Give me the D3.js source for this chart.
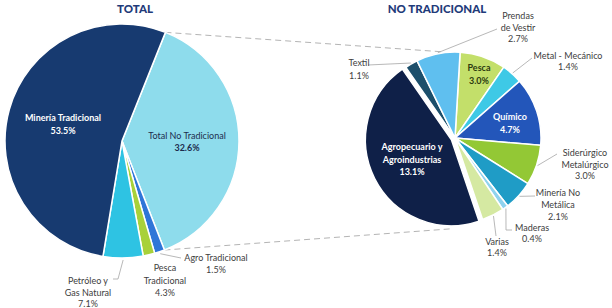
<!DOCTYPE html>
<html>
<head>
<meta charset="utf-8">
<script src="https://cdn.jsdelivr.net/npm/d3@7"></script>
<style>
  body { margin: 0; background: #fff; }
  svg { display: block; font-family: Lato, "Open Sans", sans-serif; }
</style>
</head>
<body>
<div id="graph"></div>
<script>
const width = 612, height = 308;

// left pie, clockwise from the top edge of "Total No Tradicional"
const totalNames = ["Total No Tradicional", "Agro Tradicional", "Pesca|Tradicional", "Petróleo y|Gas Natural", "Minería Tradicional"];
const totalPct = ["32.6%", "1.5%", "4.3%", "7.1%", "53.5%"];
const totalShare = [38.0, 1.4, 1.6, 5.5, 53.4]; // slice sizes as drawn
const totalColors = ["#8edcec", "#2f76d8", "#a8d13a", "#2ec3e3", "#173a70"];

// right pie, clockwise from the top
const noTradNames = ["Pesca", "Metal - Mecánico", "Químico", "Siderúrgico|Metalúrgico", "Minería No|Metálica", "Maderas", "Varias", "Agropecuario y|Agroindustrias", "Textil", "Prendas|de Vestir"];
const noTradPct = ["3.0%", "1.4%", "4.7%", "3.0%", "2.1%", "0.4%", "1.4%", "13.1%", "1.1%", "2.7%"];
const noTradShare = [31, 14, 46, 27, 20, 4, 15, 163, 8.6, 29.4];
const noTradColors = ["#c3df6a", "#3ec9e6", "#2356ba", "#93c835", "#1f9cc6", "#8fd3ee", "#d5e9a2", "#0f2048", "#1c4f6b", "#5fbfef"];

const deg = Math.PI / 180;

const svg = d3.select("#graph")
  .append("svg")
  .attr("width", width)
  .attr("height", height);

function polar(cx, cy, r, a) {
  return [cx + r * Math.sin(a), cy - r * Math.cos(a)];
}

// ---- left pie
const L = {cx: 122, cy: 141, r: 117, start: 21.8 * deg};
const leftArcs = d3.pie().sort(null)
  .startAngle(L.start).endAngle(L.start + 2 * Math.PI)
  (totalShare);
const arcL = d3.arc().innerRadius(0).outerRadius(L.r);

// ---- right pie
const R = {cx: 455, cy: 138, r: 86, start: 3.4 * deg};
const rightArcs = d3.pie().sort(null)
  .startAngle(R.start).endAngle(R.start + 2 * Math.PI)
  (noTradShare);
const arcR = d3.arc().innerRadius(0).outerRadius(R.r);

// connector dashed lines
const noTrad = leftArcs[0];
const conn = [
  [polar(L.cx, L.cy, L.r, noTrad.startAngle), polar(R.cx, R.cy, R.r + 1, -8 * deg)],
  [polar(L.cx, L.cy, L.r, noTrad.endAngle), polar(R.cx, R.cy, R.r + 5, 183 * deg)]
];
svg.selectAll(".conn")
  .data(conn)
  .join("line")
  .attr("class", "conn")
  .attr("x1", d => d[0][0]).attr("y1", d => d[0][1])
  .attr("x2", d => d[1][0]).attr("y2", d => d[1][1])
  .attr("stroke", "#b4b4b4")
  .attr("stroke-width", 1)
  .attr("stroke-dasharray", "6,4");

svg.append("g")
  .attr("transform", `translate(${L.cx},${L.cy})`)
  .selectAll("path")
  .data(leftArcs)
  .join("path")
  .attr("d", arcL)
  .attr("fill", (d, i) => totalColors[i])
  .attr("stroke", "#fff")
  .attr("stroke-width", 1.5);

svg.append("g")
  .attr("transform", `translate(${R.cx},${R.cy})`)
  .selectAll("path")
  .data(rightArcs)
  .join("path")
  .attr("transform", (d, i) => {
    if (i != 7) return null;
    const m = (d.startAngle + d.endAngle) / 2;
    return `translate(${4 * Math.sin(m)},${-4 * Math.cos(m)})`;
  })
  .attr("d", arcR)
  .attr("fill", (d, i) => noTradColors[i])
  .attr("stroke", "#fff")
  .attr("stroke-width", 1.5);

// leader lines: from slice edge to label
const mid = d => (d.startAngle + d.endAngle) / 2;
const leaders = [
  [polar(L.cx, L.cy, L.r + 2, mid(leftArcs[1])), [181, 258]],
  [polar(L.cx, L.cy, L.r + 2, mid(leftArcs[3])), [118, 279], [113, 279]],
  [polar(R.cx, R.cy, R.r + 1, mid(rightArcs[9])), [497, 29]],
  [polar(R.cx, R.cy, R.r + 1, mid(rightArcs[1])), [532, 58]],
  [polar(R.cx, R.cy, R.r + 1, mid(rightArcs[8])), [368, 65]],
  [polar(R.cx, R.cy, R.r + 1, mid(rightArcs[3])), [557, 154]],
  [polar(R.cx, R.cy, R.r + 1, mid(rightArcs[4])), [535, 196]],
  [polar(R.cx, R.cy, R.r + 1, mid(rightArcs[5])), [506, 230], [512, 230]],
  [polar(R.cx, R.cy, R.r + 1, mid(rightArcs[6])), [496, 236]]
];
svg.selectAll(".leader")
  .data(leaders)
  .join("polyline")
  .attr("class", "leader")
  .attr("points", d => d.map(p => p.join(",")).join(" "))
  .attr("fill", "none")
  .attr("stroke", "#a6a6a6")
  .attr("stroke-width", 0.8);

// titles
svg.append("text").attr("x", 135).attr("y", 13).text("TOTAL");
svg.append("text").attr("x", 437).attr("y", 13).text("NO TRADICIONAL");
svg.selectAll("text")
  .attr("text-anchor", "middle")
  .attr("font-size", 11.5)
  .attr("font-weight", 900)
  .attr("fill", "#1f3b7a");

// label placement: [x, first baseline, line height, fill, bold]
const leftPlace = [
  [187, 139, 12, "#1d2d4e", false],
  [216, 261, 12, "#404040", false],
  [165, 271, 12.5, "#404040", false],
  [88, 284, 11.5, "#404040", false],
  [63, 121, 13, "#ffffff", true]
];
const rightPlace = [
  [479, 71, 13, "#2c3a10", true],
  [568, 59, 11, "#404040", false],
  [510, 120, 13, "#ffffff", true],
  [585, 156, 11.5, "#404040", false],
  [558, 196, 12, "#404040", false],
  [532, 231, 11, "#404040", false],
  [497, 245, 11, "#404040", false],
  [412, 150, 12.5, "#ffffff", true],
  [359, 66, 12.5, "#404040", false],
  [518, 19, 11.5, "#404040", false]
];

function addLabels(names, pcts, place) {
  const g = svg.append("g")
    .selectAll("text")
    .data(names.map((n, i) => ({lines: n.split("|").concat(pcts[i]), p: place[i]})))
    .join("text")
    .attr("text-anchor", "middle")
    .attr("font-size", 9)
    .attr("fill", d => d.p[3])
    .attr("font-weight", d => d.p[4] ? 700 : 400);
  g.selectAll("tspan")
    .data(d => d.lines.map((t, j) => ({t, j, p: d.p, last: j == d.lines.length - 1})))
    .join("tspan")
    .attr("x", d => d.p[0])
    .attr("y", d => d.p[1] + d.j * d.p[2])
    .attr("font-weight", d => (d.p[4] || (d.last && d.p[3] != "#404040")) ? 700 : 400)
    .text(d => d.t);
}
addLabels(totalNames, totalPct, leftPlace);
addLabels(noTradNames, noTradPct, rightPlace);
</script>
</body>
</html>
